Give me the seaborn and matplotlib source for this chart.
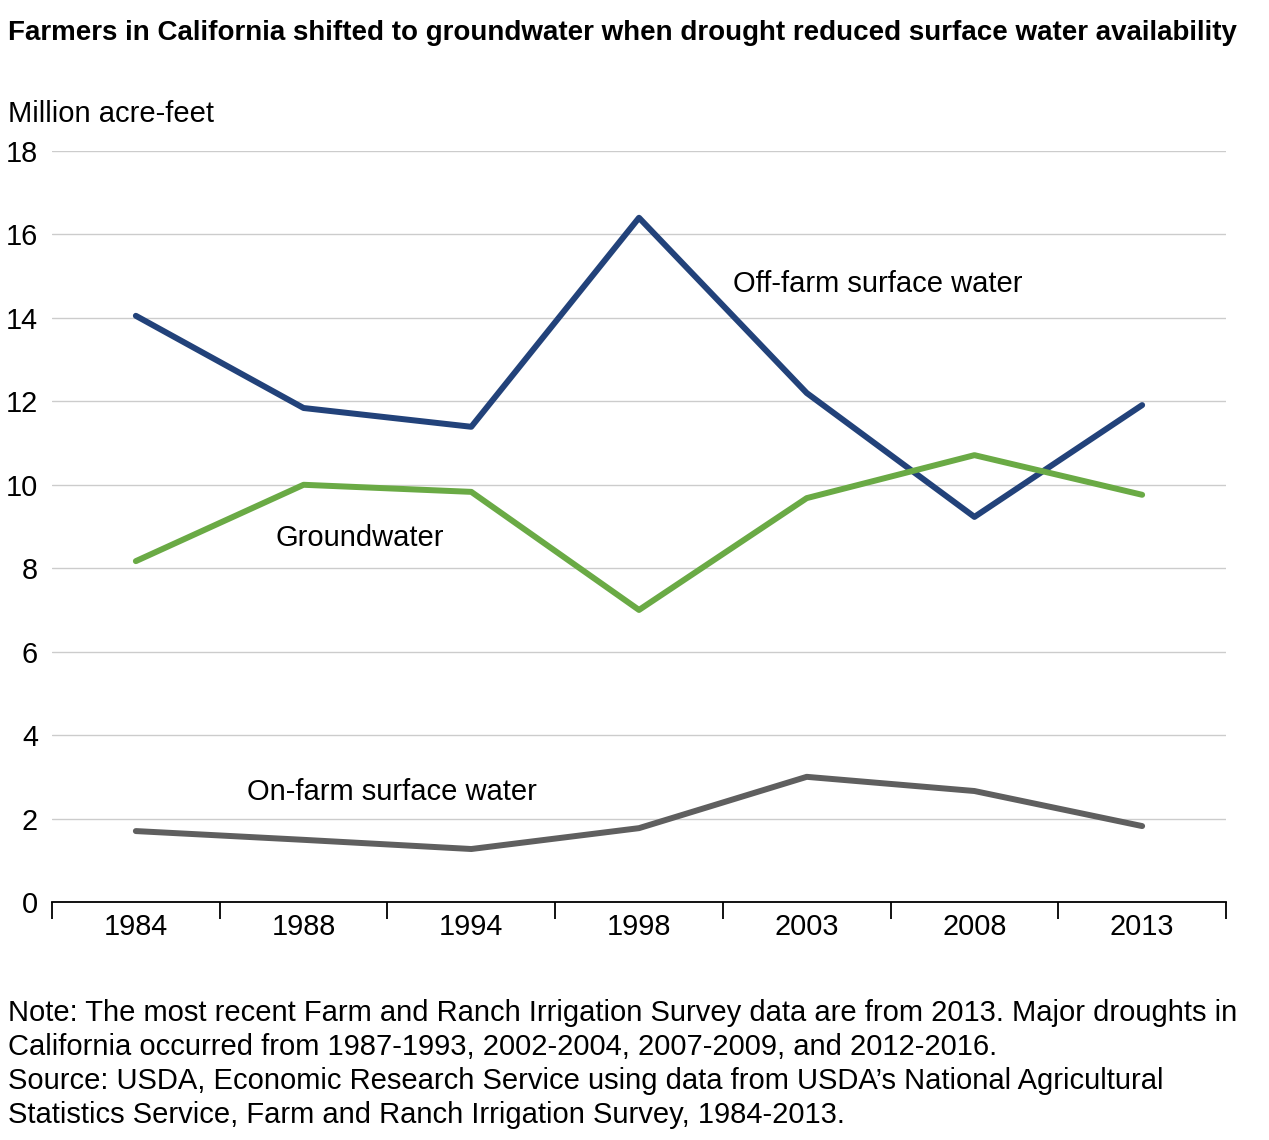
import matplotlib
matplotlib.use("Agg")
import matplotlib.pyplot as plt
import seaborn as sns
import pandas as pd
import numpy as np

years = ["1984", "1988", "1994", "1998", "2003", "2008", "2013"]
off_farm = [14.05, 11.84, 11.39, 16.40, 12.20, 9.23, 11.91]
groundwater = [8.17, 10.00, 9.83, 7.00, 9.68, 10.71, 9.76]
on_farm = [1.70, 1.49, 1.27, 1.77, 3.00, 2.66, 1.82]
series_names = ["Off-farm surface water", "Groundwater", "On-farm surface water"]
colors = ["#22427a", "#6aaa45", "#5f5f5f"]

sns.set_theme(style="white")
plt.rcParams["font.family"] = ["Liberation Sans", "DejaVu Sans"]
plt.rcParams["text.color"] = "black"

df = pd.DataFrame({
    "year": years * 3,
    "value": off_farm + groundwater + on_farm,
    "series": [series_names[0]] * 7 + [series_names[1]] * 7 + [series_names[2]] * 7,
})

W, H = 1269, 1140
fig = plt.figure(figsize=(W / 100, H / 100), dpi=100)
ax = fig.add_axes([52 / W, (H - 902) / H, (1226 - 52) / W, (902 - 151) / H])

sns.lineplot(data=df, x="year", y="value", hue="series", hue_order=series_names,
             palette=colors, linewidth=4.3, ax=ax, legend=False, sort=False)

ax.set_ylim(0, 18)
ax.set_xlim(-0.5, 6.5)
ax.set_yticks(np.arange(0, 19, 2))
ax.yaxis.grid(True, color="#cccccc", linewidth=1)
ax.set_axisbelow(True)
for s in ["top", "right", "left"]:
    ax.spines[s].set_visible(False)
ax.spines["bottom"].set_color("black")
ax.spines["bottom"].set_linewidth(1.3)
ax.set_xlabel("")
ax.set_ylabel("")
ax.tick_params(axis="y", length=0, pad=10, labelsize=20.8, labelcolor="black")
ax.tick_params(axis="x", which="major", length=0, pad=8, labelsize=20.8, labelcolor="black")
ax.set_xticks(np.arange(-0.5, 7, 1), minor=True)
ax.tick_params(axis="x", which="minor", bottom=True, length=12, width=1.3,
               color="black", direction="out")

ax.text(3.56, 14.81, "Off-farm surface water", fontsize=21, va="center", ha="left", color="black")
ax.text(0.83, 8.73, "Groundwater", fontsize=21, va="center", ha="left", color="black")
ax.text(0.66, 2.64, "On-farm surface water", fontsize=21, va="center", ha="left", color="black")

fig.text(8 / W, 1 - 33 / H, "Farmers in California shifted to groundwater when drought reduced surface water availability",
         fontsize=20, fontweight="bold", va="center", ha="left", color="black")
fig.text(8 / W, 1 - 114 / H, "Million acre-feet", fontsize=21, va="center", ha="left", color="black")
note = ("Note: The most recent Farm and Ranch Irrigation Survey data are from 2013. Major droughts in\n"
        "California occurred from 1987-1993, 2002-2004, 2007-2009, and 2012-2016.\n"
        "Source: USDA, Economic Research Service using data from USDA\u2019s National Agricultural\n"
        "Statistics Service, Farm and Ranch Irrigation Survey, 1984-2013.")
fig.text(8 / W, 1 - 999 / H, note, fontsize=21, va="top", ha="left", linespacing=1.27, color="black")

fig.savefig("out.png", dpi=100, facecolor="white")
